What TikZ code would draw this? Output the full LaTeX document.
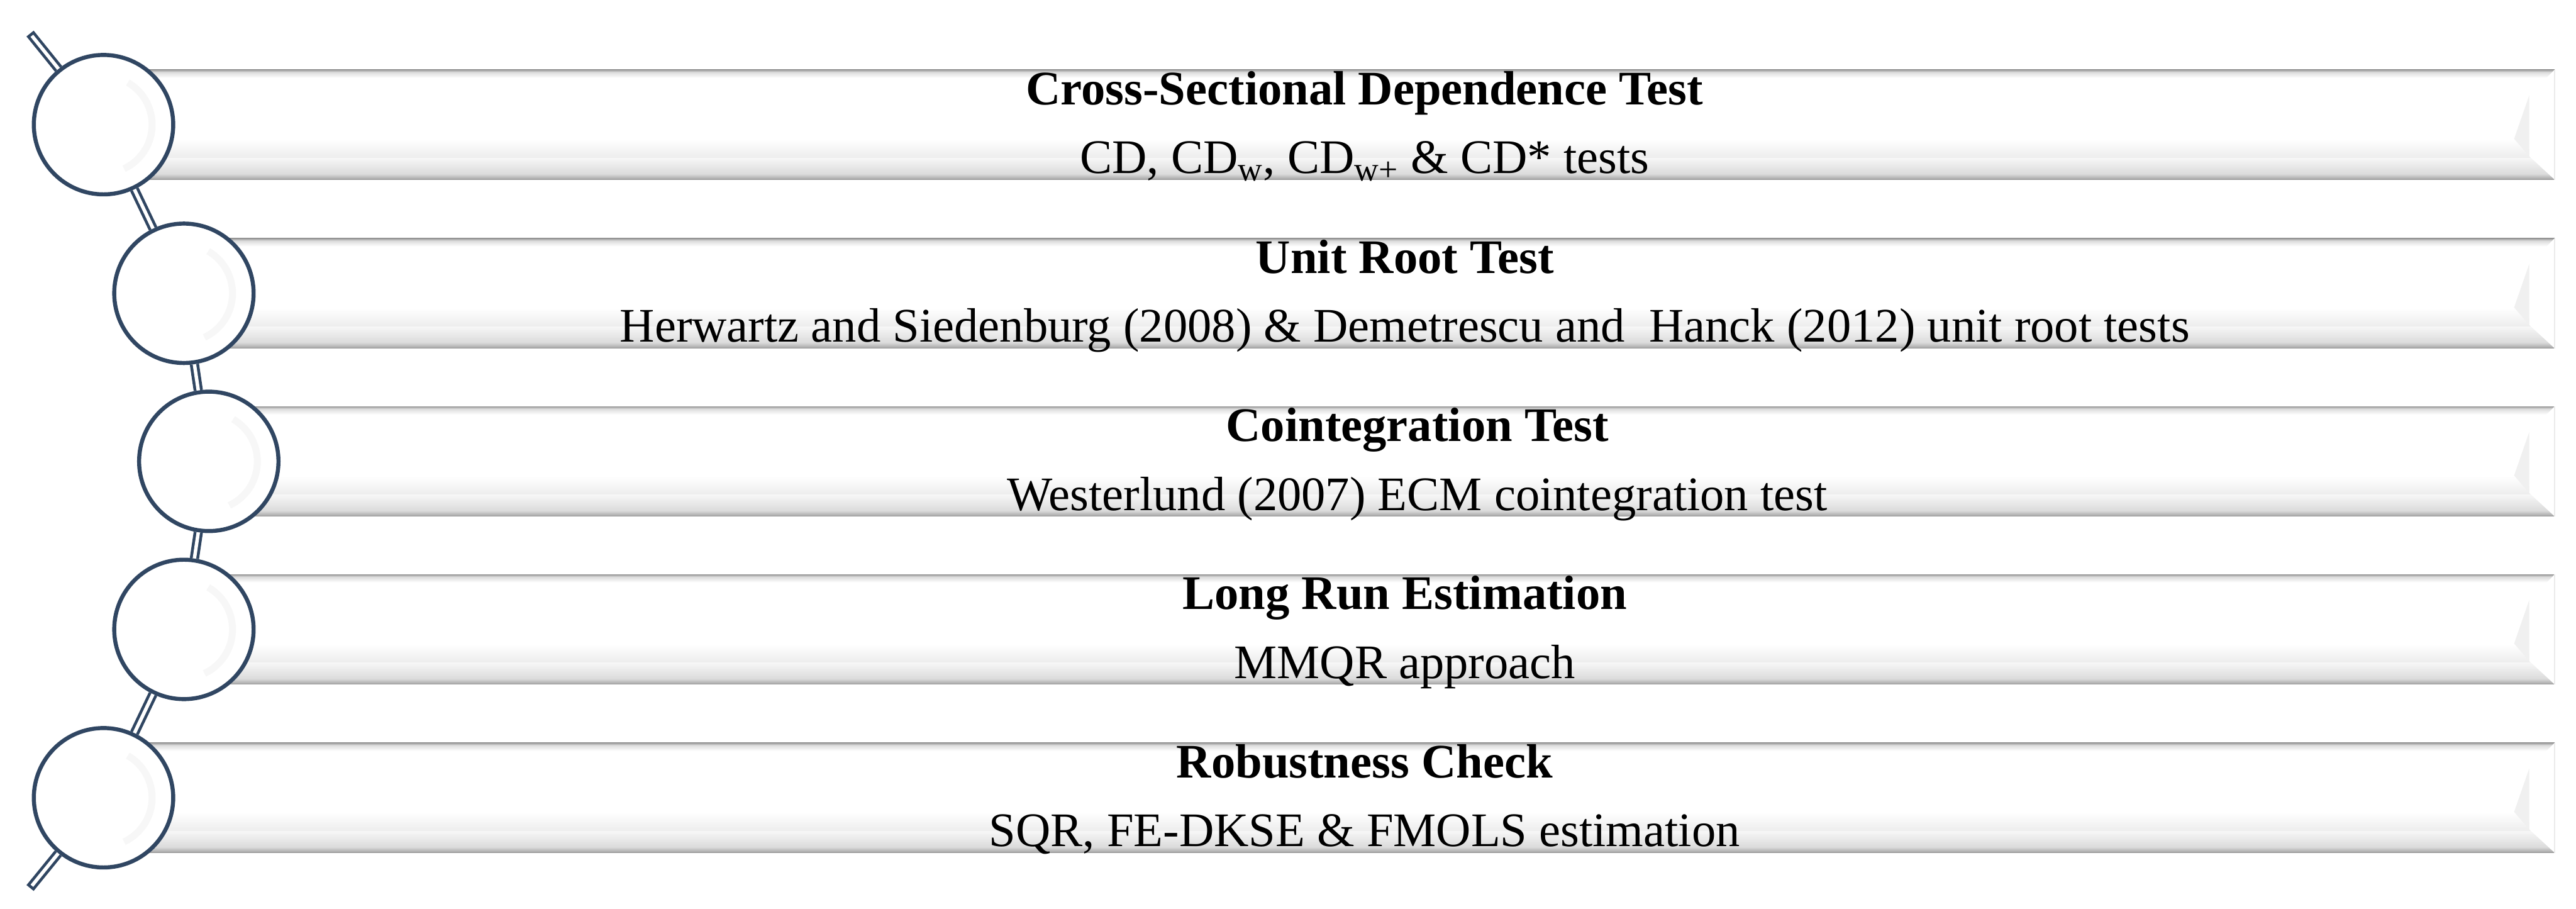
\documentclass[tikz,border=0pt]{standalone}
\usepackage{fontspec}
\setmainfont{Liberation Serif}
\usetikzlibrary{calc}
\definecolor{ringblue}{RGB}{48,70,98}
\pgfdeclareverticalshading{barshade}{100bp}{color(0bp)=(black!45); color(25bp)=(black!45);
  color(25.5bp)=(black!32); color(27.6bp)=(black!14); color(35bp)=(black!3); color(35.1bp)=(black!7);
  color(43.4bp)=(white); color(71.3bp)=(white); color(73.9bp)=(black!14); color(75bp)=(black!40);
  color(100bp)=(black!40)}

\begin{document}
\begin{tikzpicture}[
  ring/.style={circle,draw=ringblue,line width=0.07cm,fill=white,minimum size=2.41cm,inner sep=0pt},
  linkbody/.style={draw=ringblue,line width=0.16cm},
  linkcore/.style={draw=white,line width=0.06cm},
  ttl/.style={font=\fontsize{23.7pt}{28pt}\selectfont\bfseries,anchor=base,inner sep=0pt},
  sub/.style={font=\fontsize{23.7pt}{28pt}\selectfont,anchor=base,inner sep=0pt}]
  \useasboundingbox (0,0) rectangle (44.54,-15.71);
  \foreach \i/\x/\y/\head/\body in {
    1/1.79/-2.155/{Cross-Sectional Dependence Test}/{CD, CD\textsubscript{w}, CD\textsubscript{w+} \& CD* tests},
    2/3.18/-5.07/{Unit Root Test}/{Herwartz and Siedenburg (2008) \& Demetrescu and~ Hanck (2012) unit root tests},
    3/3.61/-7.975/{Cointegration Test}/{Westerlund (2007) ECM cointegration test},
    4/3.18/-10.88/{Long Run Estimation}/{MMQR approach},
    5/1.79/-13.79/{Robustness Check}/{SQR, FE-DKSE \& FMOLS estimation}}{
    % bevelled bar
    \shade[shading=barshade] (\x,{\y-0.95}) rectangle (44.17,{\y+0.95});
    \fill[white] (44.17,{\y+0.95}) -- (44.17,{\y-0.95}) -- (43.73,{\y-0.545}) -- (43.73,{\y+0.505}) -- cycle;
    \fill[black!6] (43.73,{\y+0.505}) -- (43.47,{\y-0.245}) -- (43.73,{\y-0.545}) -- cycle;
    \draw[black!8,line width=0.02cm] (44.17,{\y+0.95}) -- (44.17,{\y-0.95});
    \node[ring] (c\i) at (\x,\y) {};
    \draw[black!3,line width=0.12cm] ($(c\i)+(60:0.84)$) arc (60:-65:0.84);
    \node[ttl] (t\i) at ({(\x+45.4)/2},{\y+0.345}) {\head};
    \node[sub] (s\i) at ({(\x+45.4)/2},{\y-0.845}) {\body};
  }
  % chain links
  \coordinate (top) at (0.52,-0.58);
  \coordinate (bot) at (0.52,-15.35);
  \foreach \a/\b in {1/2,2/3,3/4,4/5}{
    \draw[linkbody] (c\a) -- (c\b);
    \draw[linkcore] (c\a) -- (c\b);
  }
  \draw[linkbody] (top) -- (c1);
  \draw[linkcore,shorten <=0.05cm] (top) -- (c1);
  \draw[linkbody] (bot) -- (c5);
  \draw[linkcore,shorten <=0.05cm] (bot) -- (c5);
\end{tikzpicture}
\end{document}
